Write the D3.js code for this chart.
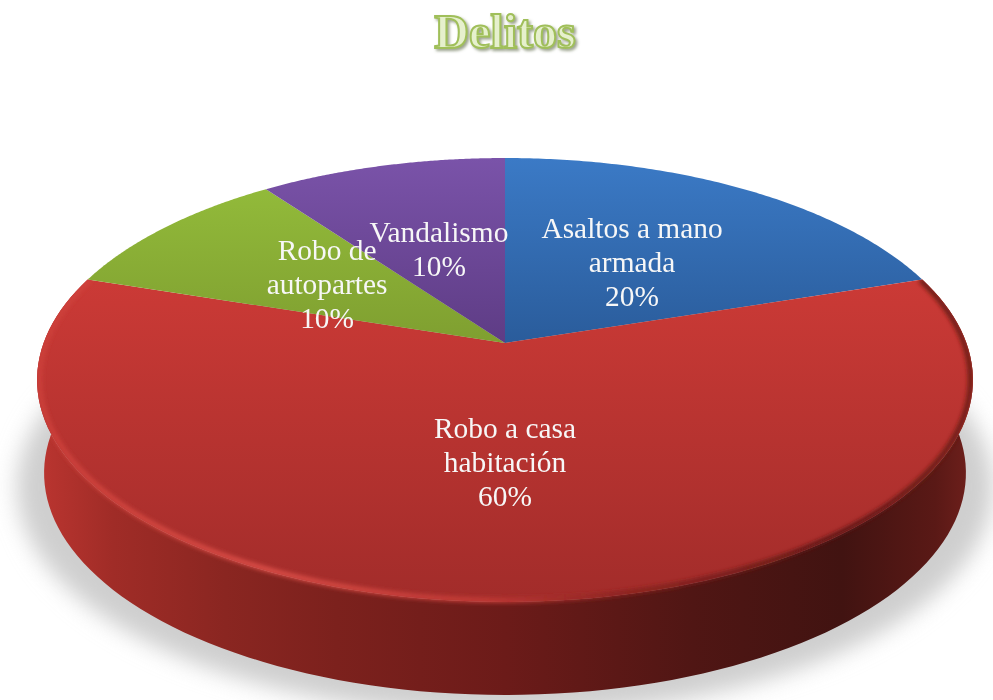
<!DOCTYPE html>
<html>
<head>
<meta charset="utf-8">
<script src="https://cdnjs.cloudflare.com/ajax/libs/d3/7.8.5/d3.min.js"></script>
<style>
  html, body { margin: 0; padding: 0; background: #fff; }
  svg { display: block; }
  text { font-family: "Liberation Serif", serif; }
</style>
</head>
<body>
<div id="wrapper"></div>
<script>
//1. Data
const categories = ['Asaltos a mano armada', 'Robo a casa habitación', 'Robo de autopartes', 'Vandalismo'];
const labelLines = [['Asaltos a mano', 'armada'], ['Robo a casa', 'habitación'], ['Robo de', 'autopartes'], ['Vandalismo']];
const values = [20, 60, 10, 10];
const topColors = ['#3b7ac6', '#cb3a36', '#92ba3a', '#7a53a9'];
const bottomColors = ['#2a5c9b', '#a22c2a', '#7f9f30', '#5e3c85'];
const chartTitle = 'Delitos';

//2. Dimensions
const dimensions = { width: 993, height: 700 };
const center = { x: 505, y: 343 };
const tilt = { rx: 461.4, ry: 215.8, k: 1 / 6 };
const depth = { dy: 93, shrink: 0.985 };

//3. Canvas
const wrapper = d3.select('#wrapper')
  .append('svg')
  .attr('width', dimensions.width)
  .attr('height', dimensions.height);
const defs = wrapper.append('defs');

function blur(id, amount) {
  defs.append('filter')
    .attr('id', id)
    .attr('x', '-20%').attr('y', '-20%')
    .attr('width', '140%').attr('height', '140%')
    .append('feGaussianBlur')
    .attr('stdDeviation', amount);
}
blur('shadowBlur', 11);
blur('rimBlur', 2);
blur('labelBlur', 0.4);

defs.append('filter')
  .attr('id', 'titleShadow')
  .attr('x', '-20%').attr('y', '-30%')
  .attr('width', '140%').attr('height', '160%')
  .append('feDropShadow')
  .attr('dx', 2)
  .attr('dy', 2)
  .attr('stdDeviation', 1.6)
  .attr('flood-color', '#6f7a5c')
  .attr('flood-opacity', 0.7);

function hGradient(id, stops) {
  defs.append('linearGradient')
    .attr('id', id)
    .attr('gradientUnits', 'userSpaceOnUse')
    .attr('x1', 38).attr('x2', 973)
    .attr('y1', 0).attr('y2', 0)
    .selectAll('stop')
    .data(stops)
    .enter()
    .append('stop')
    .attr('offset', d => d[0])
    .attr('stop-color', d => d[1]);
}
hGradient('wallGradient', [
  [0, '#bb3530'], [0.08, '#a02c27'], [0.2, '#8a2621'], [0.32, '#7c211d'], [0.5, '#6c1b19'],
  [0.7, '#501614'], [0.86, '#411311'], [0.96, '#5a1916'], [1, '#70201c'],
]);
hGradient('rimGradient', [
  [0, '#cc403a'], [0.25, '#dc4f48'], [0.48, '#c23a36'], [0.62, '#8a2320'],
  [0.85, '#5a1715'], [1, '#6b1c19'],
]);

//4. Scales: pie angles, then the tilted plane the pie lies on
const pie = d3.pie().sort(null).value(d => d);
const slices = pie(values);

function project(angle, r = 1) {
  const X = r * Math.sin(angle);
  const Y = -r * Math.cos(angle);
  const w = 1 - tilt.k * Y;
  return [center.x + tilt.rx * X / w, center.y + tilt.ry * Y / w];
}
function projectBottom(angle) {
  const [x, y] = project(angle);
  return [center.x + (x - center.x) * depth.shrink, y + depth.dy];
}
function sampleAngles(a0, a1) {
  return d3.range(0, 121).map(i => a0 + (a1 - a0) * i / 120);
}
const line = d3.line();

//5. Draw data
const topY = d => d3.min(sampleAngles(d.startAngle, d.endAngle), a => project(a)[1]);

// shadow on the floor
wrapper.append('ellipse')
  .attr('cx', center.x)
  .attr('cy', 487)
  .attr('rx', 488)
  .attr('ry', 228)
  .attr('fill', '#cfcfcf')
  .attr('filter', 'url(#shadowBlur)');

// side wall, only the big front slice shows it
const front = slices[1];
const wallPoints = sampleAngles(front.startAngle, front.endAngle).map(a => project(a))
  .concat(sampleAngles(front.endAngle, front.startAngle).map(projectBottom));
const wallPath = line(wallPoints) + 'Z';
wrapper.append('path')
  .attr('d', wallPath)
  .attr('fill', 'url(#wallGradient)');

// top face
slices.forEach((d, i) => {
  const gradient = defs.append('linearGradient')
    .attr('id', `face${i}`)
    .attr('gradientUnits', 'userSpaceOnUse')
    .attr('x1', 0).attr('x2', 0)
    .attr('y1', topY(d))
    .attr('y2', i === 1 ? project(Math.PI)[1] : center.y);
  gradient.append('stop').attr('offset', 0).attr('stop-color', topColors[i]);
  gradient.append('stop').attr('offset', 1).attr('stop-color', bottomColors[i]);
});

const facePath = d => line([[center.x, center.y]]
  .concat(sampleAngles(d.startAngle, d.endAngle).map(a => project(a)))) + 'Z';

wrapper.append('g')
  .attr('class', 'faces')
  .selectAll('path')
  .data(slices)
  .enter()
  .append('path')
  .attr('d', facePath)
  .attr('fill', (d, i) => `url(#face${i})`);

// bevel along the front edge, kept inside the solid
const clip = defs.append('clipPath').attr('id', 'solidClip');
clip.append('path').attr('d', wallPath);
clip.append('path').attr('d', facePath(front));

wrapper.append('g')
  .attr('clip-path', 'url(#solidClip)')
  .append('path')
  .attr('d', line(sampleAngles(front.startAngle, front.endAngle).map(a => project(a, 0.995))))
  .attr('fill', 'none')
  .attr('stroke', 'url(#rimGradient)')
  .attr('stroke-width', 5)
  .attr('filter', 'url(#rimBlur)');

//6. Peripherals
const labels = wrapper.append('g')
  .attr('class', 'labels')
  .attr('filter', 'url(#labelBlur)')
  .selectAll('text')
  .data(slices)
  .enter()
  .append('text')
  .attr('text-anchor', 'middle')
  .attr('fill', '#f7f7f7')
  .style('font-size', '29.4px')
  .attr('transform', d => {
    const [x, y] = project((d.startAngle + d.endAngle) / 2, 0.5);
    return `translate(${x},${y})`;
  });

labels.each(function (d, i) {
  const rows = labelLines[i].concat(`${d.value}%`);
  d3.select(this).selectAll('tspan')
    .data(rows)
    .enter()
    .append('tspan')
    .attr('x', 0)
    .attr('y', (row, j) => (j - (rows.length - 1) / 2) * 34 + 11)
    .text(row => row);
});

// title
wrapper.append('text')
  .attr('class', 'title')
  .attr('x', 505).attr('y', 48)
  .attr('text-anchor', 'middle')
  .style('font-size', '48px')
  .style('font-weight', 'bold')
  .attr('fill', '#e6f0cd')
  .attr('stroke', '#a0bf5a')
  .attr('stroke-width', 2)
  .attr('filter', 'url(#titleShadow)')
  .text(chartTitle);
</script>
</body>
</html>
